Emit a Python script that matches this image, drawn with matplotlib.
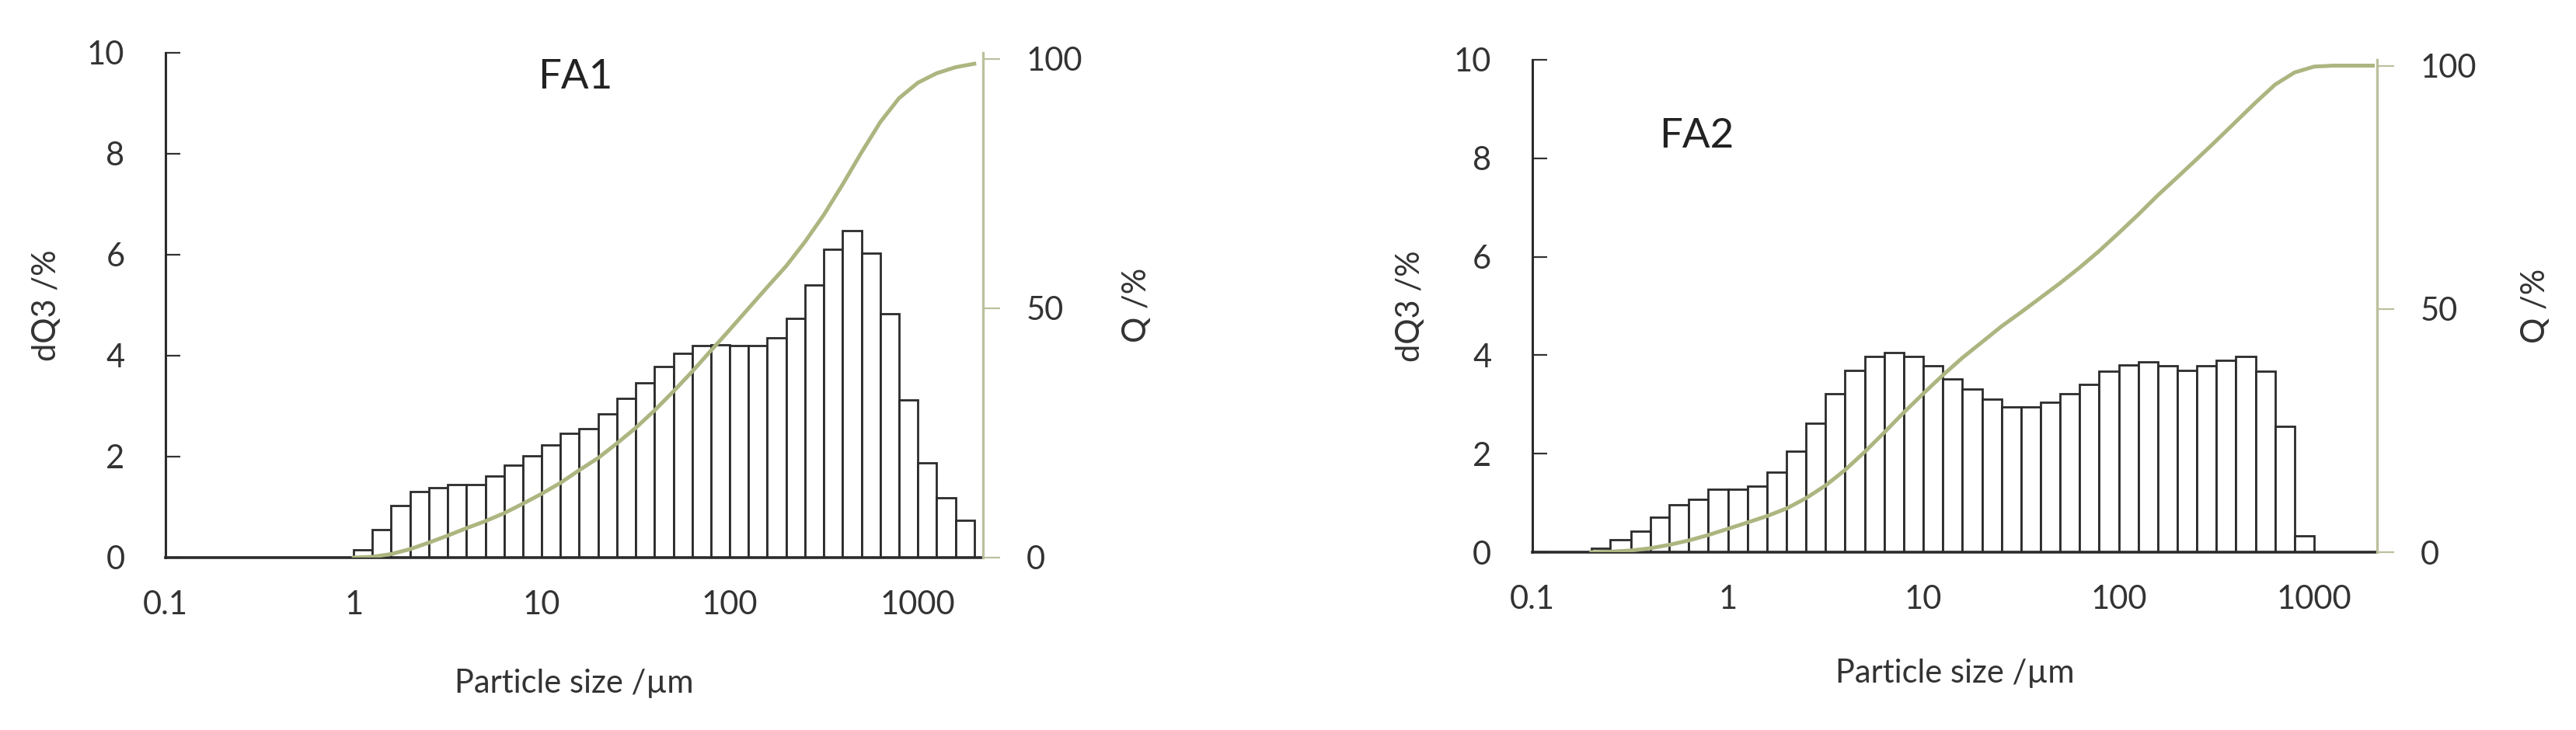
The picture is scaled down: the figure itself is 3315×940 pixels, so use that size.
import numpy as np
import matplotlib
matplotlib.use('Agg')
from matplotlib import pyplot as plt
from matplotlib.ticker import NullLocator

plt.rcParams['font.family'] = ['Lato', 'DejaVu Sans']

# class edges in um (0.1 decade steps)
edges = [0.2, 0.25, 0.32, 0.4, 0.5, 0.63, 0.79, 1.0, 1.26, 1.58, 2.0, 2.51, 3.16,
         3.98, 5.01, 6.31, 7.94, 10, 12.6, 15.8, 20, 25.1, 31.6, 39.8, 50.1, 63.1,
         79.4, 100, 126, 158, 200, 251, 316, 398, 501, 631, 794, 1000, 1259, 1585, 1995]

# FA1: bars from 1 um to 1995 um
fa1_dq3 = [0.15, 0.55, 1.03, 1.30, 1.39, 1.45, 1.45, 1.62, 1.83, 2.01, 2.23, 2.46, 2.56,
           2.85, 3.16, 3.46, 3.78, 4.05, 4.20, 4.22, 4.20, 4.20, 4.36, 4.74, 5.40, 6.10,
           6.47, 6.03, 4.83, 3.12, 1.88, 1.19, 0.74]
fa1_q = [0, 0.15, 0.7, 1.7, 3.0, 4.4, 5.9, 7.3, 8.9, 10.8, 12.8, 15.0, 17.5, 20.0, 22.9,
         26.0, 29.5, 33.3, 37.3, 41.5, 45.7, 50.0, 54.2, 58.5, 63.3, 68.7, 74.8, 81.2,
         87.3, 92.1, 95.2, 97.1, 98.3, 99.0]

# FA2: bars from 0.2 um to 1000 um
fa2_dq3 = [0.08, 0.26, 0.43, 0.71, 0.97, 1.08, 1.27, 1.27, 1.34, 1.63, 2.05, 2.62, 3.22,
           3.69, 3.97, 4.06, 3.97, 3.79, 3.52, 3.32, 3.11, 2.95, 2.95, 3.05, 3.22, 3.41,
           3.68, 3.80, 3.87, 3.79, 3.69, 3.79, 3.89, 3.97, 3.68, 2.55, 0.33]
fa2_q = [0, 0.1, 0.35, 0.8, 1.5, 2.4, 3.5, 4.8, 6.1, 7.4, 9.0, 11.1, 13.7, 16.9, 20.6,
         24.6, 28.7, 32.6, 36.4, 39.9, 43.2, 46.4, 49.3, 52.3, 55.3, 58.5, 61.9, 65.6,
         69.4, 73.3, 77.1, 80.8, 84.6, 88.5, 92.4, 96.1, 98.6, 99.8, 100, 100, 100]

xticks = [0.1, 1, 10, 100, 1000]
xticklabels = ['0.1', '1', '10', '100', '1000']

green = '#adb580'
green_axis = '#bcc09c'
txt = '#333333'
tick_fs = 30


def panel(ax, e0, dq3, q_x, q, xmax, name, name_xy, ylab_x, qlab_x, xlab_y):
    lo = np.array(edges[e0:e0 + len(dq3)])
    hi = np.array(edges[e0 + 1:e0 + 1 + len(dq3)])
    ax.bar(lo, dq3, width=hi - lo, align='edge', color='white',
           edgecolor='#2b2b2b', linewidth=2.0, zorder=2)
    ax.set_xscale('log')
    ax.set_xlim(0.1, xmax)
    ax.set_ylim(0, 10)
    ax.set_xticks(xticks)
    ax.set_xticklabels(xticklabels)
    ax.xaxis.set_minor_locator(NullLocator())
    ax.set_yticks(range(0, 11, 2))
    ax.tick_params(axis='x', length=0, pad=30, labelsize=tick_fs, colors=txt)
    ax.tick_params(axis='y', direction='in', length=14, width=1.6, pad=38,
                   labelsize=tick_fs, colors=txt)
    for s in ['top', 'right']:
        ax.spines[s].set_visible(False)
    ax.spines['left'].set_linewidth(2.2)
    ax.spines['left'].set_color('#2b2b2b')
    ax.spines['bottom'].set_linewidth(2.6)
    ax.spines['bottom'].set_color('#2b2b2b')
    ax.set_ylabel('dQ3 /%', fontsize=tick_fs, color=txt, va='center')
    ax.yaxis.set_label_coords(ylab_x, 0.5)
    ax.set_xlabel('Particle size /\u00b5m', fontsize=tick_fs, color=txt)
    ax.xaxis.set_label_coords(0.5, xlab_y)
    ax.text(name_xy[0], name_xy[1], name, transform=ax.transAxes, fontsize=38,
            ha='center', va='center', color='#222222')

    tw = ax.twinx()
    tw.plot(q_x, q, color=green, linewidth=3.6, zorder=3)
    tw.set_xlim(0.1, xmax)
    tw.set_ylim(0, 101.2)
    tw.set_yticks([0, 50, 100])
    tw.tick_params(axis='y', direction='out', length=16, width=1.6, color=green_axis,
                   pad=24, labelsize=tick_fs, labelcolor=txt)
    for s in ['top', 'left', 'bottom']:
        tw.spines[s].set_visible(False)
    tw.spines['right'].set_color(green_axis)
    tw.spines['right'].set_linewidth(2.4)
    tw.set_ylabel('Q /%', fontsize=tick_fs, color=txt, va='center')
    tw.yaxis.set_label_coords(qlab_x, 0.5)


fig = plt.figure(figsize=(33.15, 9.4), dpi=100)
ax1 = fig.add_axes([0.0643, 0.2362, 0.3173, 0.6915])
ax2 = fig.add_axes([0.5949, 0.2436, 0.3279, 0.6745])

panel(ax1, 7, fa1_dq3, edges[7:], fa1_q, 2220, 'FA1', (0.501, 0.952),
      -0.1454, 1.188, -0.22)
panel(ax2, 0, fa2_dq3, edges, fa2_q, 2100, 'FA2', (0.194, 0.845),
      -0.1444, 1.188, -0.216)

plt.savefig('out.png', dpi=100)
